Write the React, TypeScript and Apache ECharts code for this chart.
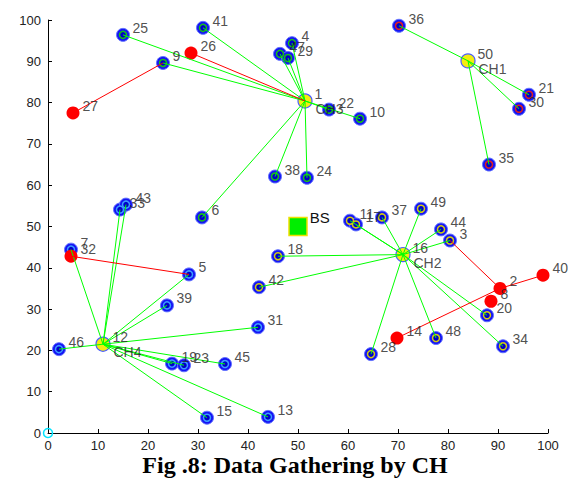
import React, { useEffect, useRef } from "react";
import * as echarts from "echarts";

// ---- data ----
const nodeIds = [
  1, 2, 3, 4, 5, 6, 7, 8, 9, 10, 11, 12, 13, 14, 15, 16, 17, 18, 19, 20, 21, 22, 23, 24, 25,
  26, 27, 28, 29, 30, 31, 32, 33, 34, 35, 36, 37, 38, 39, 40, 41, 42, 43, 44, 45, 46, 47, 48, 49, 50,
];
const nodeX = [
  51.4, 90.4, 80.4, 48.8, 28.2, 30.8, 4.6, 88.6, 23.0, 62.4, 60.4, 11.0, 44.0, 69.8, 31.8, 71.0, 61.6,
  46.0, 24.8, 87.8, 96.2, 56.2, 27.2, 51.8, 15.0, 28.6, 5.0, 64.6, 48.0, 94.2, 42.0, 4.6, 14.4, 91.0,
  88.2, 70.2, 66.8, 45.4, 23.8, 99.0, 31.0, 42.2, 15.6, 78.6, 35.4, 2.2, 46.4, 77.6, 74.6, 84.0,
];
const nodeY = [
  80.4, 35.0, 46.6, 94.4, 38.4, 52.2, 44.4, 31.9, 89.6, 76.1, 51.4, 21.5, 3.9, 23.0, 3.7, 43.2, 50.5,
  42.8, 16.8, 28.5, 81.9, 78.3, 16.4, 61.8, 96.4, 92.0, 77.5, 19.1, 90.8, 78.5, 25.6, 42.8, 54.1, 21.0,
  65.0, 98.6, 52.2, 62.1, 30.9, 38.2, 98.1, 35.3, 55.3, 49.3, 16.7, 20.3, 91.8, 23.0, 54.3, 90.1,
];
const clusterHeads = [50, 16, 1, 12];
const clusterNames = ["CH1", "CH2", "CH3", "CH4"];
const ch1Members = [36, 21, 30, 35];
const ch2Members = [11, 17, 37, 49, 44, 3, 18, 42, 28, 48, 20, 34];
const ch3Members = [25, 9, 41, 4, 47, 29, 22, 10, 38, 24, 6];
const ch4Members = [7, 33, 43, 5, 39, 46, 31, 19, 23, 45, 15, 13];
const deadNodes = [2, 8, 14, 26, 27, 32, 40];
const deadLinks = [
  [27, 9],
  [26, 1],
  [32, 5],
  [3, 2],
  [2, 40],
  [2, 14],
];
const baseStation = [50, 50];
const originPoint = [0, 0];

const ringColors = ["#e02020", "#d4cc10", "#18c018", "#3c9cff"];
const FONT = "Liberation Sans, Arial, sans-serif";

function pos(id: number): number[] {
  const i = nodeIds.indexOf(id);
  return [nodeX[i], nodeY[i]];
}

export default function App() {
  const ref = useRef<HTMLDivElement>(null);
  useEffect(() => {
    if (!ref.current) return;
    const chart = echarts.init(ref.current, null, { renderer: "svg" });
    const memberLists = [ch1Members, ch2Members, ch3Members, ch4Members];

    const memberOuter: any[] = [];
    const memberInner: any[] = [];
    const greenLinks: any[] = [];
    memberLists.forEach((list, c) => {
      const head = pos(clusterHeads[c]);
      list.forEach((id) => {
        const p = pos(id);
        memberOuter.push({ value: [p[0], p[1], id] });
        memberInner.push({
          value: [p[0], p[1], id],
          itemStyle: { borderColor: ringColors[c] },
        });
        greenLinks.push({ coords: [p, head] });
      });
    });
    const redLinks = deadLinks.map((l) => ({ coords: [pos(l[0]), pos(l[1])] }));
    const deadData = deadNodes.map((id) => ({ value: [...pos(id), id] }));
    const headData = clusterHeads.map((id, c) => ({ value: [...pos(id), id], name: clusterNames[c] }));
    const allLabelData = nodeIds.map((id) => ({ value: [...pos(id), id] }));

    const axisCommon = {
      min: 0,
      max: 100,
      interval: 10,
      axisLine: { show: true, onZero: false, lineStyle: { color: "#000", width: 1 } },
      axisTick: { show: true, inside: true, length: 4, lineStyle: { color: "#000" } },
      splitLine: { show: false },
      axisLabel: { color: "#222", fontSize: 13, fontFamily: FONT },
    };

    chart.setOption({
      animation: false,
      grid: { left: 48, right: 26, top: 20, bottom: 49 },
      xAxis: { type: "value", ...axisCommon, axisLabel: { ...axisCommon.axisLabel, margin: 6 } },
      yAxis: { type: "value", ...axisCommon, axisLabel: { ...axisCommon.axisLabel, margin: 7 } },
      graphic: [
        {
          type: "text",
          x: 295,
          y: 465,
          style: {
            text: "Fig .8: Data Gathering by CH",
            font: "bold 24px 'Liberation Serif', 'Times New Roman', serif",
            fill: "#000",
            textAlign: "center",
            textVerticalAlign: "middle",
          },
        },
      ],
      series: [
        {
          type: "scatter",
          z: 2,
          symbol: "circle",
          symbolSize: 13,
          itemStyle: { color: "#1414f4", borderColor: "#6474ff", borderWidth: 1, opacity: 1 },
          data: memberOuter,
        },
        {
          type: "scatter",
          z: 2,
          symbol: "circle",
          symbolSize: 7,
          itemStyle: { color: "#0000c8", borderWidth: 1.5, opacity: 1 },
          data: memberInner,
        },
        {
          type: "scatter",
          z: 2,
          symbol: "circle",
          symbolSize: 13,
          itemStyle: { color: "#ff0000", opacity: 1 },
          data: deadData,
        },
        {
          type: "scatter",
          z: 2,
          symbol: "circle",
          symbolSize: 14,
          itemStyle: { color: "#f4ec10", borderColor: "#4a5cff", borderWidth: 1.2, opacity: 1 },
          data: headData,
        },
        {
          type: "scatter",
          z: 2,
          symbol: "rect",
          symbolSize: 18,
          itemStyle: { color: "#00ee00", borderColor: "#f0e000", borderWidth: 1.5, opacity: 1 },
          label: {
            show: true,
            position: "right",
            distance: 2,
            offset: [0, -9],
            formatter: "BS",
            color: "#111",
            fontSize: 15,
            fontFamily: FONT,
          },
          data: [baseStation],
        },
        {
          type: "scatter",
          z: 2,
          symbol: "circle",
          symbolSize: 9,
          itemStyle: { color: "rgba(0,0,0,0)", borderColor: "#00e4ff", borderWidth: 1.5, opacity: 1 },
          data: [originPoint],
        },
        {
          type: "lines",
          coordinateSystem: "cartesian2d",
          z: 3,
          silent: true,
          lineStyle: { color: "#00ff00", width: 1, opacity: 1 },
          data: greenLinks,
        },
        {
          type: "lines",
          coordinateSystem: "cartesian2d",
          z: 3,
          silent: true,
          lineStyle: { color: "#ff0000", width: 1, opacity: 1 },
          data: redLinks,
        },
        {
          type: "scatter",
          z: 4,
          symbol: "circle",
          symbolSize: 13,
          itemStyle: { color: "rgba(0,0,0,0)" },
          label: {
            show: true,
            position: "right",
            distance: 3,
            offset: [0, -7],
            formatter: (p: any) => String(p.value[2]),
            color: "#222",
            fontSize: 14,
            fontFamily: FONT,
          },
          data: allLabelData,
        },
        {
          type: "scatter",
          z: 4,
          symbol: "circle",
          symbolSize: 13,
          itemStyle: { color: "rgba(0,0,0,0)" },
          label: {
            show: true,
            position: "right",
            distance: 4,
            offset: [0, 8],
            formatter: (p: any) => p.name,
            color: "#222",
            fontSize: 14,
            fontFamily: FONT,
          },
          data: headData,
        },
      ],
    });
    return () => chart.dispose();
  }, []);
  return (
    <div
      ref={ref}
      style={{ position: "fixed", left: 0, top: 0, width: 574, height: 482, background: "#fff" }}
    />
  );
}
